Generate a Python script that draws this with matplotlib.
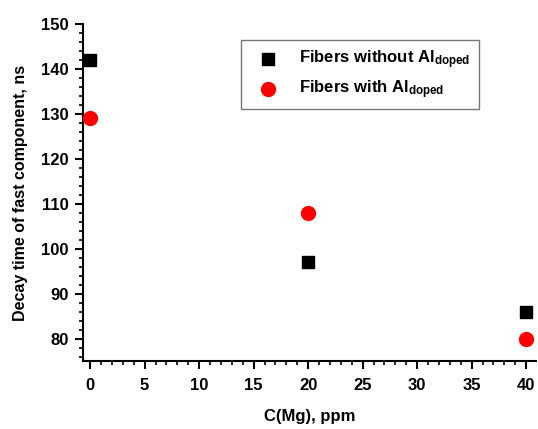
import matplotlib
matplotlib.use('Agg')
import matplotlib.pyplot as plt
from matplotlib.ticker import MultipleLocator

plt.rcParams['font.family'] = 'Liberation Sans'
plt.rcParams['font.weight'] = 'bold'
plt.rcParams['mathtext.fontset'] = 'custom'
plt.rcParams['mathtext.bf'] = 'Liberation Sans:bold'
plt.rcParams['mathtext.rm'] = 'Liberation Sans:bold'
plt.rcParams['mathtext.default'] = 'bf'

# data
mg_ppm = [0, 20, 40]
decay_without_al = [142, 97, 86]
decay_with_al = [129, 108, 80]
labels = ['Fibers without Al$_{doped}$', 'Fibers with Al$_{doped}$']

fig = plt.figure(figsize=(5.38, 4.29), dpi=100)
ax = fig.add_axes([83/538, 1 - 361/429, 453/538, 337/429])

ax.scatter(mg_ppm, decay_without_al, marker='s', s=9**2, c='black', label=labels[0], clip_on=False, zorder=3)
ax.scatter(mg_ppm, decay_with_al, marker='o', s=10**2, c='red', label=labels[1], clip_on=False, zorder=3)

ax.set_xlim(-0.65, 40.9)
ax.set_ylim(75.1, 150)
ax.xaxis.set_major_locator(MultipleLocator(5))
ax.xaxis.set_minor_locator(MultipleLocator(1))
ax.yaxis.set_major_locator(MultipleLocator(10))
ax.yaxis.set_minor_locator(MultipleLocator(2))
ax.set_yticks(range(80, 151, 10))

for s in ['top', 'right']:
    ax.spines[s].set_visible(False)
for s in ['left', 'bottom']:
    ax.spines[s].set_linewidth(1.5)

ax.tick_params(which='major', direction='out', length=5.5, width=1.5, labelsize=12)
ax.tick_params(which='minor', direction='out', length=3, width=1.2)
ax.tick_params(axis='x', which='major', pad=7)
ax.tick_params(axis='y', which='major', pad=5)

ax.set_xlabel('C(Mg), ppm', fontsize=12, fontweight='bold', labelpad=11)
ax.set_ylabel('Decay time of fast component, ns', fontsize=11.5, fontweight='bold', labelpad=9)

leg = ax.legend(loc='upper left', bbox_to_anchor=(0.349, 0.953), borderaxespad=0,
                fancybox=False, edgecolor='#555555', fontsize=12, handletextpad=0.8,
                borderpad=0.5, labelspacing=0.45, handlelength=2.2)
leg.get_frame().set_linewidth(1.0)

fig.savefig('out.png', dpi=100)
